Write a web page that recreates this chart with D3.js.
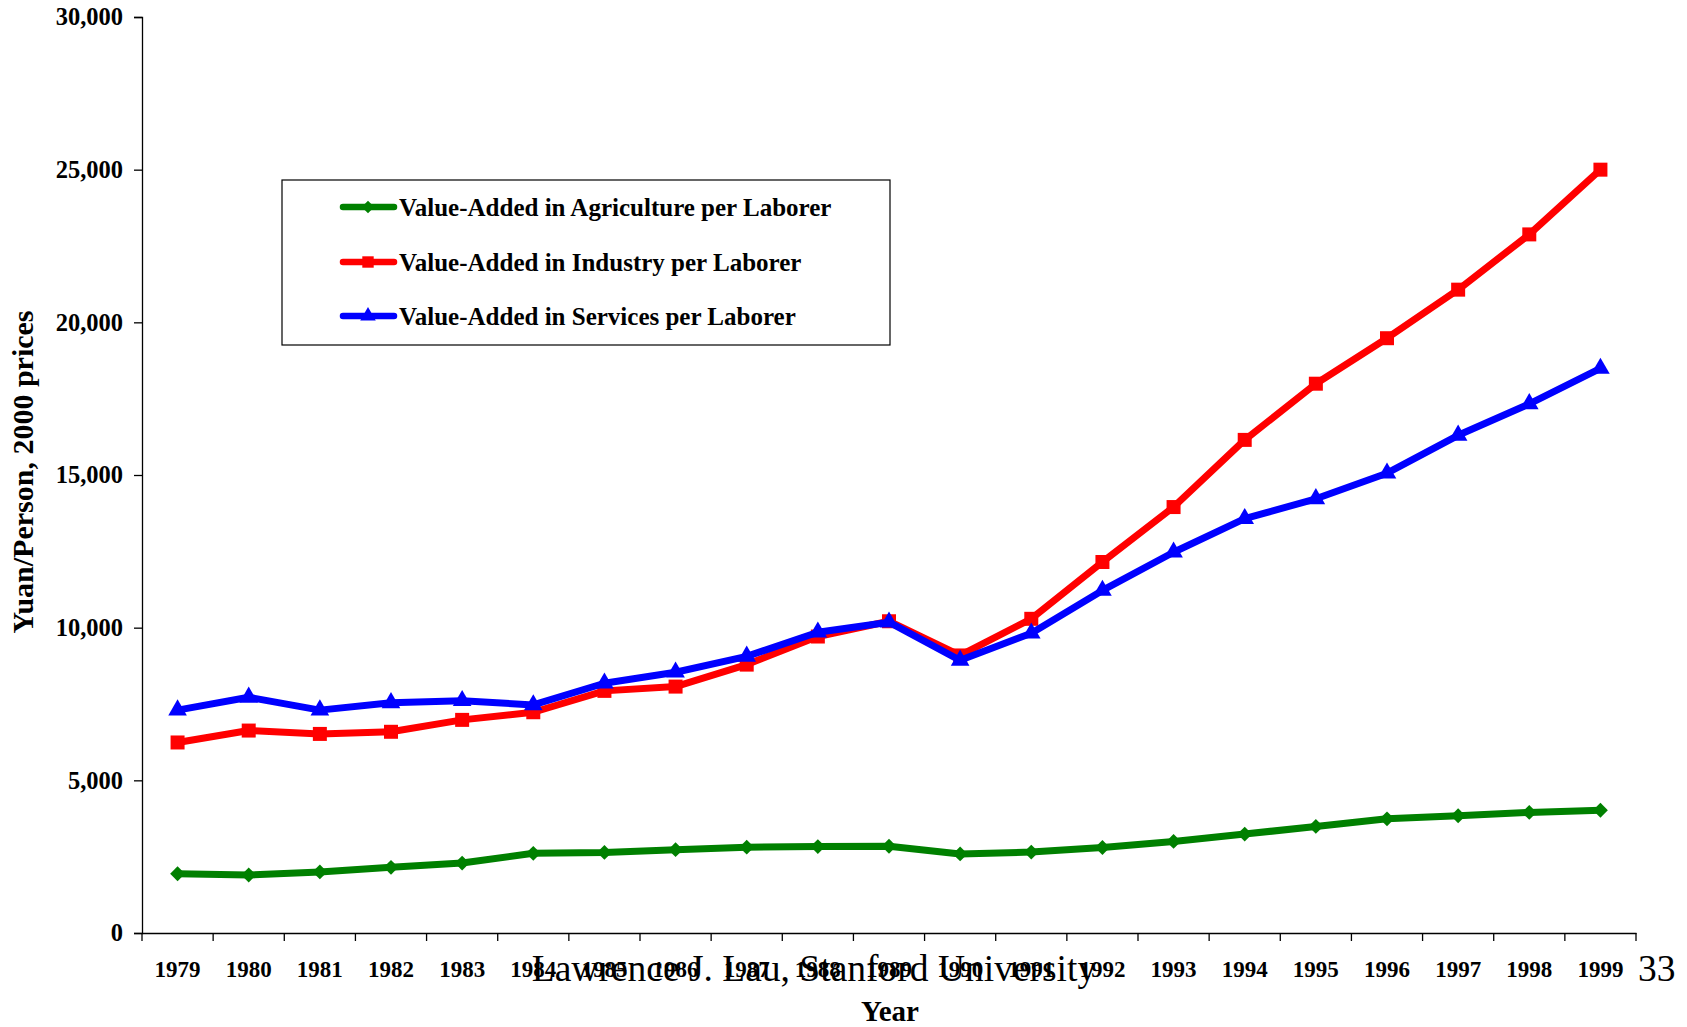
<!DOCTYPE html>
<html><head><meta charset="utf-8">
<script src="https://cdn.jsdelivr.net/npm/d3@7"></script>
<style>
html,body{margin:0;padding:0;background:#fff;}
svg{display:block;font-family:"Liberation Serif","Times New Roman",serif;}
</style></head>
<body>
<svg id="chart" width="1687" height="1027"></svg>
<script>
const years = ["1979","1980","1981","1982","1983","1984","1985","1986","1987","1988","1989","1990","1991","1992","1993","1994","1995","1996","1997","1998","1999"];
const agriculture = [1940,1900,2000,2150,2290,2610,2640,2730,2810,2830,2840,2590,2650,2800,3000,3240,3490,3740,3840,3950,4020];
const industry = [6240,6630,6520,6590,6980,7230,7930,8070,8790,9710,10210,9090,10290,12150,13950,16150,17990,19480,21070,22880,25000];
const services = [7300,7720,7300,7540,7610,7470,8180,8540,9060,9850,10180,8930,9820,11220,12470,13570,14220,15060,16300,17330,18490];
const yTicks = [0,5000,10000,15000,20000,25000,30000];
const seriesNames = ["Value-Added in Agriculture per Laborer","Value-Added in Industry per Laborer","Value-Added in Services per Laborer"];
const seriesColors = ["#008000","#ff0000","#0000ff"];
const seriesValues = [agriculture, industry, services];

const svg = d3.select("#chart");
const mLeft = 142, mRight = 1636, mTop = 17, mBottom = 933;

const x = d3.scaleBand().domain(years).range([mLeft, mRight]).padding(0);
const y = d3.scaleLinear().domain([0, 30000]).range([mBottom, mTop]);

// marker definitions: diamond (rotated square), square, triangle
const markerDefs = [
  {type: d3.symbolSquare, size: 110, rot: 45, lsize: 80},
  {type: d3.symbolSquare, size: 196, rot: 0, lsize: 130},
  {type: d3.symbolTriangle, size: 150, rot: 0, lsize: 105}
];

// Y axis
const yAxis = svg.append("g").attr("transform", `translate(${mLeft},0)`)
  .call(d3.axisLeft(y).tickValues(yTicks).tickSize(8).tickPadding(11).tickFormat(d3.format(",")));
yAxis.selectAll("text").attr("font-size", 24.5).attr("font-weight", "bold").attr("fill", "#000")
  .attr("font-family", "Liberation Serif");
yAxis.selectAll("line,path").attr("stroke", "#000").attr("stroke-width", 1.3);

// X axis
const xAxis = svg.append("g").attr("transform", `translate(0,${mBottom})`)
  .call(d3.axisBottom(x).tickSize(0).tickPadding(0).tickSizeOuter(0));
xAxis.select("path").attr("stroke", "#000").attr("stroke-width", 1.3);
xAxis.selectAll("text").attr("font-size", 23).attr("font-weight", "bold").attr("fill", "#000")
  .attr("font-family", "Liberation Serif").attr("dy", null).attr("y", 44);
// boundary ticks
const bounds = years.map(d => x(d)).concat([x(years[years.length-1]) + x.bandwidth()]);
xAxis.selectAll("line.bound").data(bounds).enter().append("line")
  .attr("class","bound").attr("x1", d => d).attr("x2", d => d).attr("y1", 0).attr("y2", 8)
  .attr("stroke", "#000").attr("stroke-width", 1.3);

const cx = d => x(d) + x.bandwidth()/2;

// series
seriesValues.forEach((vals, i) => {
  const data = years.map((yr, j) => ({yr, v: vals[j]}));
  svg.append("path").datum(data)
    .attr("fill","none").attr("stroke", seriesColors[i]).attr("stroke-width", 7)
    .attr("stroke-linejoin","round")
    .attr("d", d3.line().x(d => cx(d.yr)).y(d => y(d.v)));
  const m = markerDefs[i];
  svg.append("g").selectAll("path").data(data).enter().append("path")
    .attr("transform", d => `translate(${cx(d.yr)},${y(d.v)}) rotate(${m.rot})`)
    .attr("d", d3.symbol().type(m.type).size(m.size))
    .attr("fill", seriesColors[i]);
});

// Legend
const lg = svg.append("g");
lg.append("rect").attr("x", 282).attr("y", 180).attr("width", 608).attr("height", 165)
  .attr("fill","#fff").attr("stroke","#000").attr("stroke-width",1.2);
const rowY = [207, 262, 316];
seriesNames.forEach((name, i) => {
  lg.append("line").attr("x1", 343).attr("x2", 394).attr("y1", rowY[i]).attr("y2", rowY[i])
    .attr("stroke", seriesColors[i]).attr("stroke-width", 6.5).attr("stroke-linecap","round");
  const m = markerDefs[i];
  lg.append("path").attr("transform", `translate(368,${rowY[i]}) rotate(${m.rot})`)
    .attr("d", d3.symbol().type(m.type).size(m.lsize)).attr("fill", seriesColors[i]);
  lg.append("text").attr("x", 399).attr("y", rowY[i] + 9).text(name)
    .attr("font-size", 25).attr("font-weight","bold").attr("fill","#000");
});

// Axis titles
svg.append("text").attr("x", 890).attr("y", 1021).attr("text-anchor","middle")
  .attr("font-size", 29).attr("font-weight","bold").text("Year");
svg.append("text").attr("transform", "translate(33,472) rotate(-90)").attr("text-anchor","middle")
  .attr("font-size", 30).attr("font-weight","bold").text("Yuan/Person, 2000 prices");

// Footer
svg.append("text").attr("x", 814).attr("y", 981).attr("text-anchor","middle")
  .attr("font-size", 37.5).text("Lawrence J. Lau, Stanford University");
svg.append("text").attr("x", 1638).attr("y", 981)
  .attr("font-size", 37.5).text("33");
</script>
</body></html>
